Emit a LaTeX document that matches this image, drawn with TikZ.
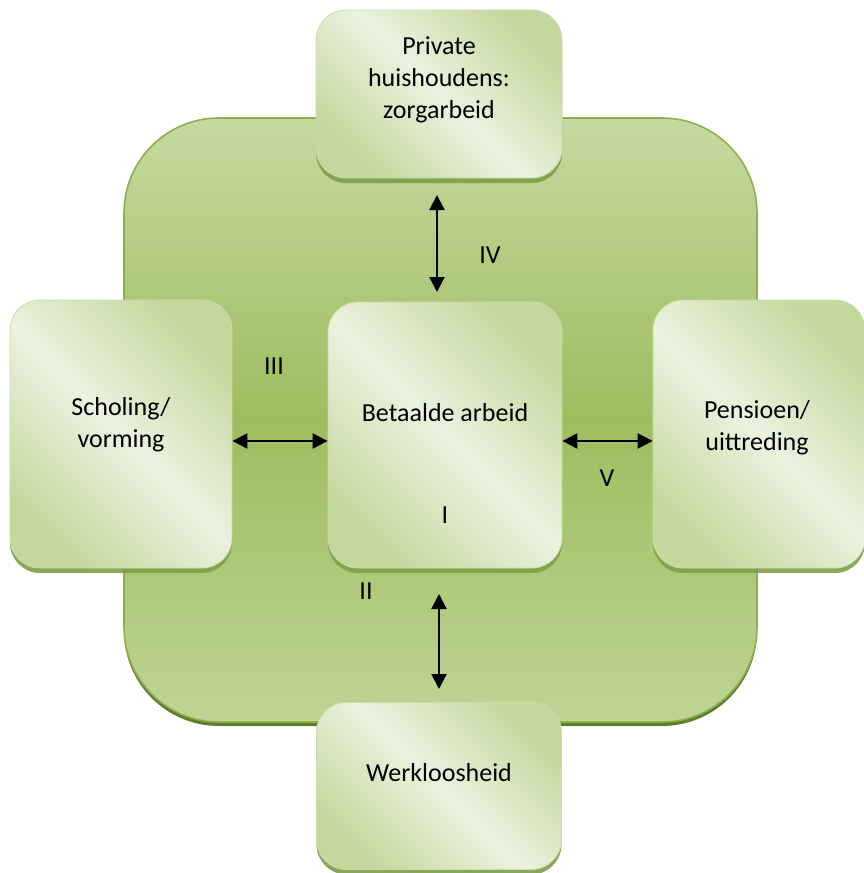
\documentclass[tikz,border=0pt]{standalone}
\usepackage{fontspec}
\setmainfont{Carlito}
\usetikzlibrary{arrows.meta,shadows,calc}

\definecolor{bgTop}{HTML}{C6D9A0}
\definecolor{bgMid}{HTML}{9DBD5E}
\definecolor{bgBot}{HTML}{BED495}
\definecolor{bgEdge}{HTML}{8DB04E}
\definecolor{bgShadow}{HTML}{5E7E2A}
\definecolor{boxLight}{HTML}{EBF2DF}
\definecolor{boxGreen}{HTML}{C4D89E}
\definecolor{boxEdge}{HTML}{C9DCAA}
\definecolor{boxShadow}{HTML}{7E9E48}

\tikzset{
  stagebox/.style={
    rounded corners=30pt, inner sep=0pt,
    draw=boxEdge, line width=0.8pt,
    top color=boxGreen, bottom color=boxGreen, middle color=boxLight,
    shading angle=-45,
    drop shadow={shadow xshift=0pt, shadow yshift=-5pt, fill=boxShadow, opacity=0.9}
  },
  boxtext/.style={align=center, font=\fontsize{26}{32}\selectfont, inner sep=0pt},
  numeral/.style={font=\fontsize{26}{32}\selectfont, inner sep=0pt},
  flow/.style={{Triangle[length=15pt,width=15pt]}-{Triangle[length=15pt,width=15pt]}, line width=2.2pt, black}
}

\begin{document}
\begin{tikzpicture}[x=1pt,y=-1pt]
  \useasboundingbox (0,0) rectangle (863,873);

  % green backdrop square: shadow, shaded body, rim
  \fill[rounded corners=95pt, bgShadow] (124,122) rectangle (757,726);
  \shade[rounded corners=95pt, top color=bgTop, bottom color=bgBot, middle color=bgMid]
    (124,118) rectangle (757,722);
  \draw[rounded corners=95pt, bgEdge, line width=1.6pt] (124,118) rectangle (757,722);

  % the five stage boxes
  \node[stagebox, minimum width=246pt, minimum height=168pt] (home)   at (439,94)  {};
  \node[stagebox, minimum width=234pt, minimum height=266pt] (paid)   at (445,435) {};
  \node[stagebox, minimum width=222pt, minimum height=268pt] (school) at (121,434) {};
  \node[stagebox, minimum width=212pt, minimum height=268pt] (pension) at (759,434) {};
  \node[stagebox, minimum width=245pt, minimum height=167pt] (unemp)  at (439,786) {};

  % box captions
  \node[boxtext] (t-home)    at (439,80)  {Private\\huishoudens:\\zorgarbeid};
  \node[boxtext] (t-paid)    at (445,413) {Betaalde arbeid};
  \node[boxtext] (t-school)  at (121,425) {Scholing/\\vorming};
  \node[boxtext] (t-pension) at (757,428) {Pensioen/\\uittreding};
  \node[boxtext] (t-unemp)   at (439,773) {Werkloosheid};

  % transition numerals
  \node[numeral] (n1) at (445,515) {I};
  \node[numeral] (n2) at (366,591) {II};
  \node[numeral] (n3) at (274,366) {III};
  \node[numeral] (n4) at (490,255) {IV};
  \node[numeral] (n5) at (607,478) {V};

  % transitions
  \coordinate (aTop) at (437,195);
  \coordinate (aTopEnd) at (437,292);
  \draw[flow] (aTop) -- (aTopEnd);
  \coordinate (aBot) at (439,594);
  \coordinate (aBotEnd) at (439,689);
  \draw[flow] (aBot) -- (aBotEnd);
  \draw[flow] ([yshift=-7pt]school.east) -- ([yshift=-6pt]paid.west);
  \draw[flow] ([yshift=-6pt]paid.east) -- ([yshift=-7pt]pension.west);
\end{tikzpicture}
\end{document}
